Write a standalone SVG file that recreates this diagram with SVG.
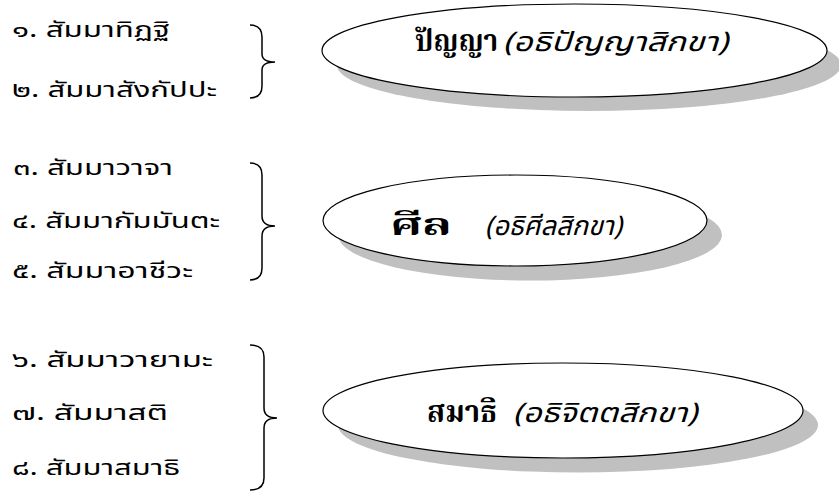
<svg xmlns="http://www.w3.org/2000/svg" width="839" height="491" viewBox="0 0 839 491">
<style>
.item{font-family:"Noto Sans Thai","Noto Sans","DejaVu Sans",sans-serif;font-size:22px;fill:#000}
.main{font-family:"Noto Serif Thai","Noto Sans Thai","Noto Sans",serif;font-size:30px;font-weight:bold;fill:#000}
.sub{font-family:"Noto Sans Thai","Noto Sans",sans-serif;font-size:27px;font-style:italic;fill:#000}
.ell{fill:#fff;stroke:#000;stroke-width:1.2}
.shd{fill:#c0c0c0}
.brace{fill:none;stroke:#000;stroke-width:1.5}
</style>
<rect width="839" height="491" fill="#fff"/>
<g id="list">
<text class="item" x="12" y="37" textLength="158" lengthAdjust="spacingAndGlyphs">๑. สัมมาทิฏฐิ</text>
<text class="item" x="12" y="97" textLength="205" lengthAdjust="spacingAndGlyphs">๒. สัมมาสังกัปปะ</text>
<text class="item" x="13" y="175" textLength="160" lengthAdjust="spacingAndGlyphs">๓. สัมมาวาจา</text>
<text class="item" x="12" y="228" textLength="208" lengthAdjust="spacingAndGlyphs">๔. สัมมากัมมันตะ</text>
<text class="item" x="12" y="278" textLength="181" lengthAdjust="spacingAndGlyphs">๕. สัมมาอาชีวะ</text>
<text class="item" x="12" y="367" textLength="201" lengthAdjust="spacingAndGlyphs">๖. สัมมาวายามะ</text>
<text class="item" x="12" y="420" textLength="156" lengthAdjust="spacingAndGlyphs">๗. สัมมาสติ</text>
<text class="item" x="12" y="475" textLength="168" lengthAdjust="spacingAndGlyphs">๘. สัมมาสมาธิ</text>
</g>
<g id="connectors">
<path class="brace" d="M250,25 Q262,25 262,37 L262,54 Q262,62 275,62 Q262,62 262,70 L262,86 Q262,98 250,98"/>
<path class="brace" d="M250,163 Q262,163 262,175 L262,216 Q262,226 275,226 Q262,226 262,236 L262,268 Q262,280 250,280"/>
<path class="brace" d="M250,345 Q264,345 264,357 L264,408 Q264,418 277,418 Q264,418 264,428 L264,478 Q264,490 250,490"/>
</g>
<g id="panya">
<ellipse class="shd" cx="589" cy="65" rx="252" ry="46"/>
<ellipse class="ell" cx="574.5" cy="50.5" rx="252.5" ry="46.5"/>
<text class="main" x="415" y="51" textLength="83" lengthAdjust="spacingAndGlyphs">ปัญญา</text>
<text class="sub" x="503" y="51" textLength="225" lengthAdjust="spacingAndGlyphs">(อธิปัญญาสิกขา)</text>
</g>
<g id="sila">
<ellipse class="shd" cx="530" cy="235" rx="192" ry="45.5"/>
<ellipse class="ell" cx="515" cy="220.5" rx="192" ry="45.5"/>
<text class="main" x="390" y="235" textLength="62" lengthAdjust="spacingAndGlyphs">ศีล</text>
<text class="sub" x="485" y="235" textLength="137" lengthAdjust="spacingAndGlyphs">(อธิศีลสิกขา)</text>
</g>
<g id="samadhi">
<ellipse class="shd" cx="578" cy="425" rx="240" ry="47.5"/>
<ellipse class="ell" cx="563" cy="410.5" rx="240" ry="47.5"/>
<text class="main" x="427" y="422" textLength="70" lengthAdjust="spacingAndGlyphs">สมาธิ</text>
<text class="sub" x="513" y="422" textLength="184" lengthAdjust="spacingAndGlyphs">(อธิจิตตสิกขา)</text>
</g>
</svg>
